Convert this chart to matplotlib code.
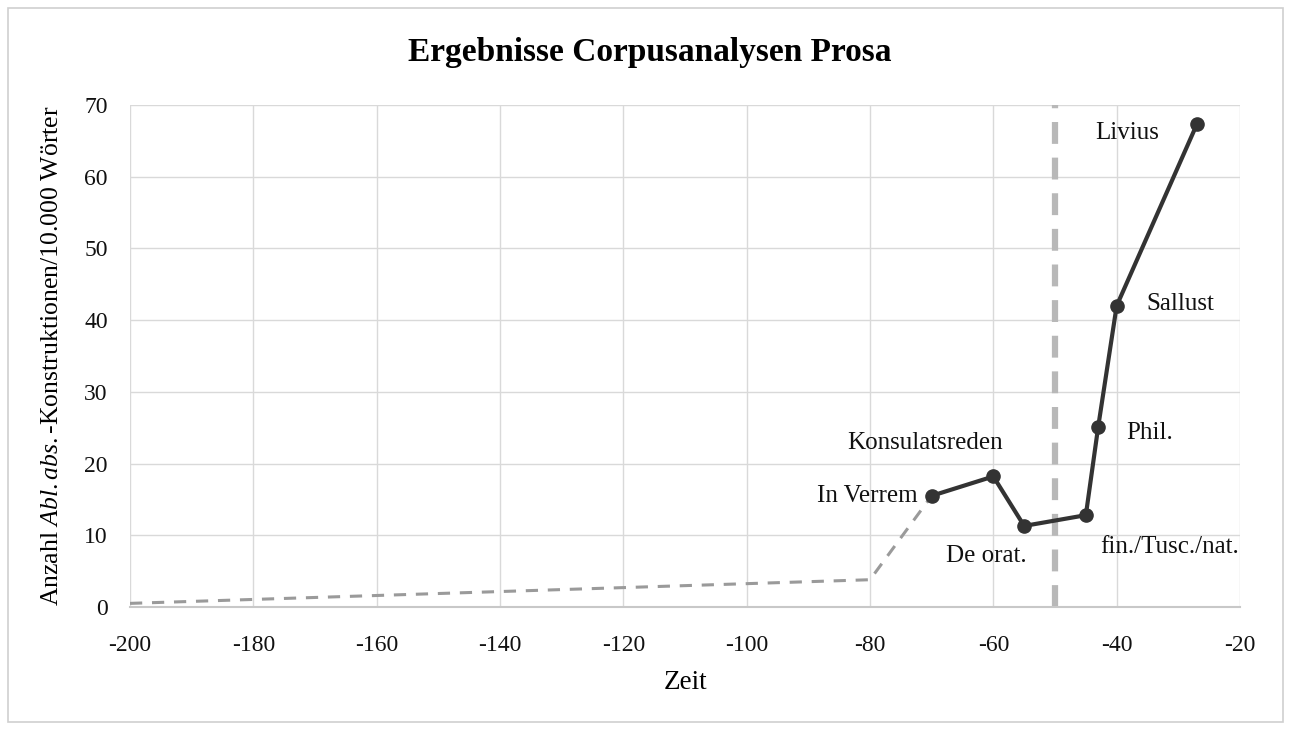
import matplotlib
matplotlib.use("Agg")
import matplotlib.pyplot as plt
from matplotlib.patches import Rectangle

plt.rcParams['font.family'] = ['Liberation Serif', 'DejaVu Serif']
plt.rcParams['mathtext.fontset'] = 'custom'
plt.rcParams['mathtext.rm'] = 'Liberation Serif'
plt.rcParams['mathtext.it'] = 'Liberation Serif:italic'
plt.rcParams['axes.unicode_minus'] = False

# Werke (Jahr, Anzahl Abl.abs. pro 10.000 Woerter)
works = ["In Verrem", "Konsulatsreden", "De orat.", "fin./Tusc./nat.", "Phil.", "Sallust", "Livius"]
years = [-70, -60, -55, -45, -43, -40, -27]
counts = [15.5, 18.2, 11.3, 12.8, 25.1, 42.0, 67.3]

# Trendlinie (gestrichelt)
trend_years = [-200, -80, -70]
trend_counts = [0.5, 3.8, 15.5]

border_year = -50

# label offsets in points
label_offsets = [(-46, 0), (-49, 24), (-27, -22), (60, -23), (37, -4), (46, 1), (-50, -6)]

fig = plt.figure(figsize=(12.91, 7.29), dpi=100)
ax = fig.add_axes([0.1007, 0.1674, 0.8598, 0.6886])

ax.plot(trend_years, trend_counts, color='#9a9a9a', lw=2.2, dashes=(4, 3.2), zorder=2)
ax.axvline(border_year, color='#b8b8b8', lw=4.5, dashes=(3.5, 2.2), zorder=2)
ax.plot(years, counts, color='#333333', lw=3, marker='o', ms=9.5, zorder=3)

for name, x, y, off in zip(works, years, counts, label_offsets):
    ax.annotate(name, (x, y), xytext=off, textcoords='offset points',
                ha='center', va='center', fontsize=18, color='#111111')

ax.set_xlim(-200, -20)
ax.set_ylim(0, 70)
ax.set_xticks(range(-200, -19, 20))
ax.set_yticks(range(0, 71, 10))
ax.grid(True, color='#d9d9d9', lw=1)
ax.set_axisbelow(True)
for s in ['top', 'right', 'left']:
    ax.spines[s].set_visible(False)
ax.spines['bottom'].set_color('#c8c8c8')
ax.spines['bottom'].set_linewidth(1.5)
ax.tick_params(length=0, labelsize=17, colors='#111111')
ax.tick_params(axis='x', pad=20)
ax.tick_params(axis='y', pad=16)

fig.suptitle("Ergebnisse Corpusanalysen Prosa", fontsize=24, fontweight='bold',
             x=0.503, y=0.928, va='center')
ax.set_xlabel("Zeit", fontsize=19.5, labelpad=10)
ax.set_ylabel("Anzahl $Abl.abs.$-Konstruktionen/10.000 Wörter", fontsize=18.5, labelpad=15)

fig.patches.append(Rectangle((0.006, 0.01), 0.988, 0.979, transform=fig.transFigure,
                             fill=False, edgecolor='#cfcfcf', lw=1.2))

fig.savefig("out.png", dpi=100)
